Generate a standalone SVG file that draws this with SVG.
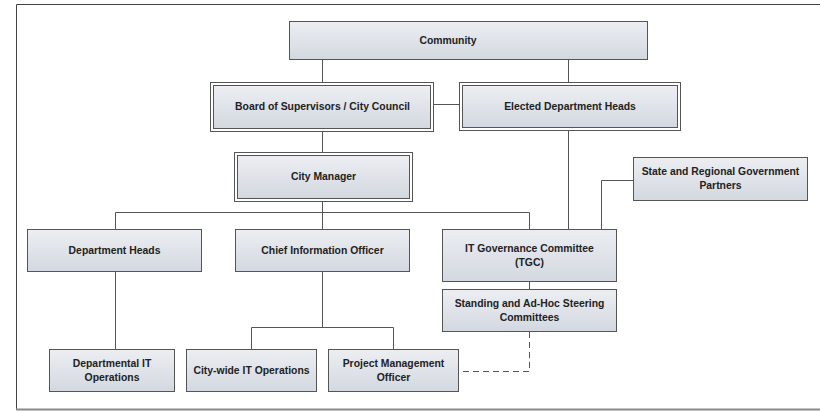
<svg xmlns="http://www.w3.org/2000/svg" width="820" height="412" viewBox="0 0 820 412">
  <style>
    .box { fill: url(#boxFill); stroke: #555; stroke-width: 1; }
    .outer { fill: #fff; stroke: #555; stroke-width: 1; }
    .lbl { font-family: "Liberation Sans", Arial, sans-serif; font-weight: bold; font-size: 10.4px; fill: #222; text-anchor: middle; }
    .conn { fill: none; stroke: #555; stroke-width: 1; }
    .dash { stroke-dasharray: 6 4; }
  </style>
  <defs>
    <linearGradient id="boxFill" x1="0" y1="0" x2="0" y2="1">
      <stop offset="0" stop-color="#eceef2"/>
      <stop offset="1" stop-color="#d3d8e0"/>
    </linearGradient>
  </defs>
  <rect width="820" height="412" fill="#fff"/>
  <!-- page frame -->
  <path d="M16.5 409 V4.5 H820" fill="none" stroke="#444" stroke-width="1"/>
  <line x1="16" y1="409.5" x2="820" y2="409.5" stroke="#888" stroke-width="2"/>

  <g id="connectors">
    <path class="conn" d="M322.5 60 V82"/>
    <path class="conn" d="M568.5 60 V82"/>
    <path class="conn" d="M434 104.5 H459"/>
    <path class="conn" d="M322.5 132 V152"/>
    <path class="conn" d="M322.5 202 V229"/>
    <path class="conn" d="M115.5 229 V212.5 H529.5 V229"/>
    <path class="conn" d="M568.5 131 V229"/>
    <path class="conn" d="M633 180.5 H601.5 V229"/>
    <path class="conn" d="M529.5 282 V289"/>
    <path class="conn" d="M115.5 272 V349"/>
    <path class="conn" d="M322.5 272 V327.5"/>
    <path class="conn" d="M251.5 349 V327.5 H393.5 V349"/>
    <path class="conn dash" d="M529.5 332 V371.5 H459"/>
  </g>

  <g id="community">
    <rect class="box" x="289.5" y="21.5" width="358" height="38"/>
    <text class="lbl" x="448" y="44">Community</text>
  </g>
  <g id="board">
    <rect class="outer" x="210.5" y="82.5" width="223" height="49"/>
    <rect class="box" x="213.5" y="85.5" width="217" height="43"/>
    <text class="lbl" x="322.5" y="110">Board of Supervisors / City Council</text>
  </g>
  <g id="elected">
    <rect class="outer" x="459.5" y="82.5" width="221" height="48"/>
    <rect class="box" x="462.5" y="85.5" width="215" height="42"/>
    <text class="lbl" x="570" y="110">Elected Department Heads</text>
  </g>
  <g id="city-manager">
    <rect class="outer" x="234.5" y="152.5" width="178" height="49"/>
    <rect class="box" x="237.5" y="155.5" width="172" height="43"/>
    <text class="lbl" x="323.5" y="180">City Manager</text>
  </g>
  <g id="state-partners">
    <rect class="box" x="633.5" y="157.5" width="174" height="43"/>
    <text class="lbl" x="720.5" y="175">State and Regional Government</text>
    <text class="lbl" x="720.5" y="189">Partners</text>
  </g>
  <g id="department-heads">
    <rect class="box" x="27.5" y="229.5" width="174" height="42"/>
    <text class="lbl" x="114.5" y="254">Department Heads</text>
  </g>
  <g id="cio">
    <rect class="box" x="235.5" y="229.5" width="174" height="42"/>
    <text class="lbl" x="322.5" y="254">Chief Information Officer</text>
  </g>
  <g id="tgc">
    <rect class="box" x="442.5" y="229.5" width="174" height="52"/>
    <text class="lbl" x="529.5" y="252">IT Governance Committee</text>
    <text class="lbl" x="529.5" y="266">(TGC)</text>
  </g>
  <g id="steering">
    <rect class="box" x="442.5" y="289.5" width="174" height="42"/>
    <text class="lbl" x="529.5" y="307">Standing and Ad-Hoc Steering</text>
    <text class="lbl" x="529.5" y="321">Committees</text>
  </g>
  <g id="dept-it-ops">
    <rect class="box" x="49.5" y="349.5" width="125" height="42"/>
    <text class="lbl" x="112" y="367">Departmental IT</text>
    <text class="lbl" x="112" y="381">Operations</text>
  </g>
  <g id="citywide-it-ops">
    <rect class="box" x="186.5" y="349.5" width="130" height="42"/>
    <text class="lbl" x="251.5" y="374">City-wide IT Operations</text>
  </g>
  <g id="pmo">
    <rect class="box" x="328.5" y="349.5" width="130" height="42"/>
    <text class="lbl" x="393.5" y="367">Project Management</text>
    <text class="lbl" x="393.5" y="381">Officer</text>
  </g>
</svg>
